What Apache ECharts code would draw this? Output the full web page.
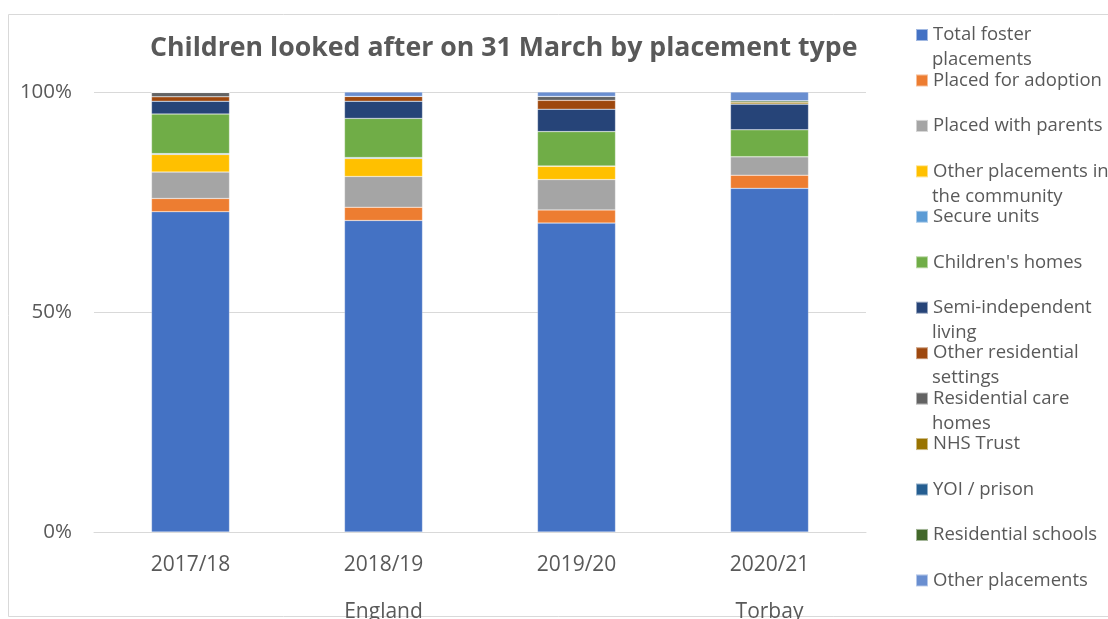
<!DOCTYPE html>
<html>
<head>
<meta charset="utf-8">
<script src="https://cdn.jsdelivr.net/npm/echarts@6/dist/echarts.min.js"></script>
<style>
  html, body { margin: 0; padding: 0; background: #fff; }
  #chart { width: 1108px; height: 619px; }
</style>
</head>
<body>
<div id="chart"></div>
<script>
const years = ["2017/18", "2018/19", "2019/20", "2020/21"];
const regionLabels = ["", "England", "", "Torbay"];

const totalFoster = [72.8, 70.8, 70.2, 78.1];
const placedAdoption = [3.0, 3.0, 3.0, 3.0];
const placedParents = [6.0, 7.0, 6.9, 4.2];
const otherCommunity = [4.0, 4.1, 3.0, 0];
const secureUnits = [0.2, 0.2, 0.1, 0];
const childrensHomes = [9.0, 8.9, 7.8, 6.1];
const semiIndependent = [2.9, 3.9, 5.1, 5.9];
const otherResidential = [1.0, 1.1, 2.0, 0];
const residentialCare = [1.0, 0, 0.9, 0];
const nhsTrust = [0, 0, 0, 0.4];
const yoiPrison = [0, 0, 0, 0];
const residentialSchools = [0, 0, 0, 0.3];
const otherPlacements = [0, 1.0, 1.0, 2.0];

const seriesList = [
  { name: "Total foster placements", data: totalFoster, color: "#4472C4" },
  { name: "Placed for adoption", data: placedAdoption, color: "#ED7D31" },
  { name: "Placed with parents", data: placedParents, color: "#A5A5A5" },
  { name: "Other placements in the community", data: otherCommunity, color: "#FFC000" },
  { name: "Secure units", data: secureUnits, color: "#5B9BD5" },
  { name: "Children's homes", data: childrensHomes, color: "#70AD47" },
  { name: "Semi-independent living", data: semiIndependent, color: "#264478" },
  { name: "Other residential settings", data: otherResidential, color: "#9E480E" },
  { name: "Residential care homes", data: residentialCare, color: "#636363" },
  { name: "NHS Trust", data: nhsTrust, color: "#997300" },
  { name: "YOI / prison", data: yoiPrison, color: "#255E91" },
  { name: "Residential schools", data: residentialSchools, color: "#43682B" },
  { name: "Other placements", data: otherPlacements, color: "#698ED0" }
];

// the original wraps some legend entries; second line hangs below without
// pushing the next entry down, so it is drawn separately
const legendWrap = {
  "Total foster placements": ["Total foster", "placements"],
  "Other placements in the community": ["Other placements in", "the community"],
  "Semi-independent living": ["Semi-independent", "living"],
  "Other residential settings": ["Other residential", "settings"],
  "Residential care homes": ["Residential care", "homes"]
};

const font = "Open Sans";
const textColor = "#595959";
const legendTop = 24;
const legendPitch = 45.45;
const legendFontSize = 18.5;

const wrapTexts = [];
seriesList.forEach((s, i) => {
  const w = legendWrap[s.name];
  if (w) {
    wrapTexts.push({
      type: "text",
      silent: true,
      style: {
        text: w[1],
        x: 932,
        y: legendTop + 11 + legendPitch * i + 25,
        verticalAlign: "middle",
        font: legendFontSize + "px '" + font + "'",
        fill: textColor
      }
    });
  }
});

const myChart = echarts.init(document.getElementById("chart"));

myChart.setOption({
  animation: false,
  title: {
    text: "Children looked after on 31 March by placement type",
    left: 150,
    top: 35,
    padding: 0,
    textStyle: {
      fontFamily: font,
      fontSize: 26.7,
      fontWeight: "bold",
      color: textColor
    }
  },
  graphic: [
    {
      type: "rect",
      shape: { x: 8.5, y: 14.5, width: 1200, height: 602 },
      style: { fill: "none", stroke: "#d9d9d9", lineWidth: 1 },
      silent: true
    }
  ].concat(wrapTexts),
  legend: {
    orient: "vertical",
    left: 915,
    top: legendTop,
    padding: 0,
    itemWidth: 12,
    itemHeight: 12,
    itemGap: legendPitch - 22,
    icon: "rect",
    data: seriesList.map(s => s.name),
    formatter: name => (legendWrap[name] ? legendWrap[name][0] : name),
    textStyle: {
      fontFamily: font,
      fontSize: legendFontSize,
      color: textColor,
      lineHeight: 22
    }
  },
  grid: {
    left: 94,
    right: 242,
    top: 92,
    bottom: 87,
    outerBoundsMode: "none",
    containLabel: false
  },
  xAxis: [
    {
      type: "category",
      data: years,
      axisLine: { lineStyle: { color: "#d9d9d9" } },
      axisTick: { show: false },
      axisLabel: {
        fontFamily: font,
        fontSize: 21,
        color: textColor,
        margin: 23
      }
    },
    {
      type: "category",
      data: regionLabels,
      position: "bottom",
      offset: 48,
      axisLine: { show: false },
      axisTick: { show: false },
      axisLabel: {
        fontFamily: font,
        fontSize: 21,
        color: textColor,
        margin: 22,
        interval: 0
      }
    }
  ],
  yAxis: {
    type: "value",
    min: 0,
    max: 100,
    interval: 50,
    axisLine: { show: false },
    axisTick: { show: false },
    splitLine: { lineStyle: { color: "#d9d9d9" } },
    axisLabel: {
      fontFamily: font,
      fontSize: 20.5,
      color: textColor,
      margin: 22,
      formatter: "{value}%"
    }
  },
  series: seriesList.map(s => ({
    name: s.name,
    type: "bar",
    stack: "total",
    barWidth: 78,
    data: s.data,
    itemStyle: { color: s.color, borderColor: "rgba(255,255,255,0.5)", borderWidth: 0.5 }
  }))
});
</script>
</body>
</html>
